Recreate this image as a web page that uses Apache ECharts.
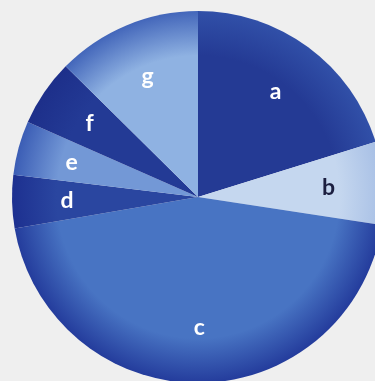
<!DOCTYPE html>
<html>
<head>
<meta charset="utf-8">
<script src="https://cdn.jsdelivr.net/npm/echarts@6/dist/echarts.min.js"></script>
<style>
html,body{margin:0;padding:0;background:#efefef;}
#c{width:375px;height:381px;}
</style>
</head>
<body>
<div id="c"></div>
<script>
// Data
var categories = ['a', 'b', 'c', 'd', 'e', 'f', 'g'];
var values = [20.2, 7.2, 44.9, 4.6, 4.7, 5.8, 12.6];

// Styles
var baseColors = ['#243a94', '#c5d7ef', '#4874c3', '#2a46a0', '#7398d6', '#233a95', '#8fb2e2'];
var rimColors  = ['#3150a8', '#a7bfe5', '#243c9c', '#1d3090', '#3b5db5', '#1d2f8a', '#4366ba'];
var labelColors = ['#ffffff', '#1c1f40', '#ffffff', '#ffffff', '#ffffff', '#ffffff', '#ffffff'];

var CX = 198, CY = 197, R = 186;

function grad(i) {
  return {
    type: 'radial', x: CX, y: CY, r: R, global: true,
    colorStops: [
      { offset: 0, color: baseColors[i] },
      { offset: 0.76, color: baseColors[i] },
      { offset: 1, color: rimColors[i] }
    ]
  };
}

var pieData = categories.map(function (c, i) {
  return { name: c, value: values[i], itemStyle: { color: grad(i) } };
});
var labelData = categories.map(function (c, i) {
  return {
    name: c, value: values[i],
    label: { color: labelColors[i] }
  };
});

var chart = echarts.init(document.getElementById('c'), null, { renderer: 'canvas' });
chart.setOption({
  backgroundColor: '#efefef',
  animation: false,
  series: [
    {
      type: 'pie',
      center: [CX, CY],
      radius: [0, R],
      startAngle: 90,
      clockwise: true,
      silent: true,
      label: { show: false },
      labelLine: { show: false },
      itemStyle: { borderWidth: 0 },
      data: pieData
    },
    {
      type: 'pie',
      center: [CX, CY],
      radius: [70, R],
      startAngle: 90,
      clockwise: true,
      silent: true,
      itemStyle: { color: 'rgba(0,0,0,0)', borderWidth: 0 },
      label: {
        show: true,
        position: 'inside',
        formatter: '{b}',
        fontFamily: 'Lato',
        fontSize: 23,
        fontWeight: 'bold'
      },
      labelLine: { show: false },
      data: labelData
    }
  ]
});
</script>
</body>
</html>
